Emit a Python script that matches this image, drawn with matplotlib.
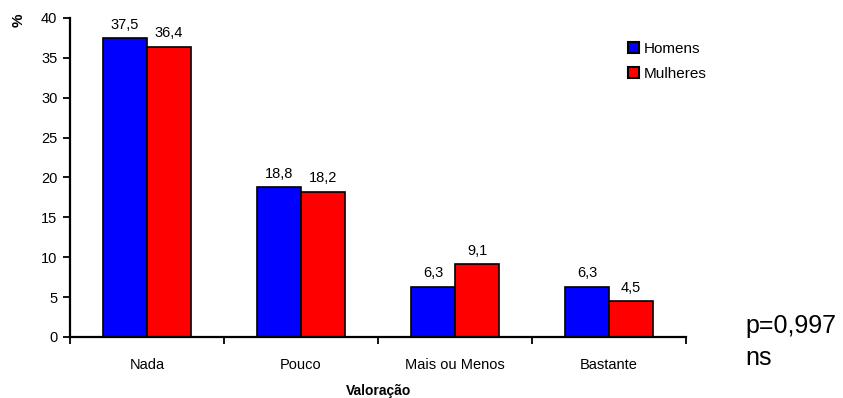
import matplotlib.pyplot as plt
import numpy as np

plt.rcParams['font.family'] = ['Liberation Sans', 'DejaVu Sans']

categorias = ['Nada', 'Pouco', 'Mais ou Menos', 'Bastante']
homens = [37.5, 18.8, 6.3, 6.3]
mulheres = [36.4, 18.2, 9.1, 4.5]
rotulos_homens = ['37,5', '18,8', '6,3', '6,3']
rotulos_mulheres = ['36,4', '18,2', '9,1', '4,5']

fig = plt.figure(figsize=(8.43, 3.98), dpi=100)
ax = fig.add_axes([0.083, 0.1533, 0.731, 0.8015])

x = np.arange(len(categorias))
w = 0.286
b1 = ax.bar(x - w / 2, homens, w, color='#0000ff', edgecolor='black', linewidth=1.2, label='Homens')
b2 = ax.bar(x + w / 2, mulheres, w, color='#ff0000', edgecolor='black', linewidth=1.2, label='Mulheres')

for rect, lab in zip(b1, rotulos_homens):
    ax.text(rect.get_x() + rect.get_width() / 2, rect.get_height() + 0.8, lab,
            ha='center', va='bottom', fontsize=10.5)
for rect, lab in zip(b2, rotulos_mulheres):
    ax.text(rect.get_x() + rect.get_width() / 2, rect.get_height() + 0.8, lab,
            ha='center', va='bottom', fontsize=10.5)

ax.set_xlim(-0.5, len(categorias) - 0.5)
ax.set_ylim(0, 40)
ax.set_yticks(range(0, 41, 5))
ax.set_xticks(np.arange(-0.5, len(categorias), 1))
ax.set_xticklabels([])
ax.set_xticks(x, minor=True)
ax.set_xticklabels(categorias, minor=True, fontsize=10.5)
ax.tick_params(axis='x', which='minor', length=0, pad=15)
ax.tick_params(axis='x', which='major', direction='out', length=5, width=1.3)
ax.tick_params(axis='y', direction='out', length=5, width=1.3, labelsize=10.5, pad=4)

for s in ['top', 'right']:
    ax.spines[s].set_visible(False)
for s in ['left', 'bottom']:
    ax.spines[s].set_linewidth(1.6)

ax.set_xlabel('Valoração', fontsize=10, fontweight='bold', labelpad=9)
fig.text(0.022, 0.95, '%', rotation=90, fontsize=11, fontweight='bold', ha='center', va='center')

leg = ax.legend(loc='upper left', bbox_to_anchor=(0.895, 0.945), frameon=False,
                fontsize=11, handlelength=0.75, handleheight=0.75, handletextpad=0.3,
                labelspacing=0.75, borderaxespad=0)
for h in leg.legend_handles:
    h.set_linewidth(1.5)

fig.text(0.884, 0.163, 'p=0,997', fontsize=18, ha='left', va='baseline')
fig.text(0.884, 0.083, 'ns', fontsize=18, ha='left', va='baseline')

fig.savefig('out.png', dpi=100)
